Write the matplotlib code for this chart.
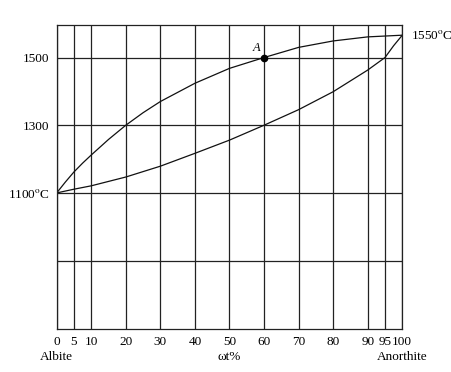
import matplotlib.pyplot as plt

plt.rcParams['font.family'] = ['Liberation Serif', 'DejaVu Serif']
plt.rcParams['mathtext.fontset'] = 'stix'

# composition lines (wt% anorthite) and temperature lines
grid_x = [0, 5, 10, 20, 30, 40, 50, 60, 70, 80, 90, 95, 100]
grid_t = [900, 1100, 1300, 1500]

# liquidus (upper curve)
liq_x = [0, 2.5, 5, 7.5, 10, 15, 20, 25, 30, 40, 50, 60, 70, 80, 90, 100]
liq_t = [1100, 1132, 1162, 1188, 1212, 1258, 1300, 1337, 1370, 1424, 1468, 1500, 1530, 1549, 1561, 1566]

# solidus (lower curve)
sol_x = [0, 5, 10, 20, 30, 40, 50, 60, 70, 80, 90, 95, 97.5, 100]
sol_t = [1100, 1111, 1121, 1147, 1179, 1217, 1256, 1300, 1346, 1399, 1463, 1500, 1535, 1566]

point_A = (60, 1500)

fig = plt.figure(figsize=(4.52, 3.72), dpi=100)
ax = fig.add_axes([0.1254, 0.1156, 0.7646, 0.818])

for x in grid_x:
    ax.axvline(x, color='#222222', lw=0.9)
for t in grid_t:
    ax.axhline(t, color='#222222', lw=0.9)

ax.plot(liq_x, liq_t, color='#111111', lw=0.9)
ax.plot(sol_x, sol_t, color='#111111', lw=0.9)
ax.plot(*point_A, 'o', color='black', ms=4.5)
ax.text(point_A[0] - 1.2, point_A[1] + 10, 'A', style='italic', fontsize=9,
        ha='right', va='bottom')

ax.set_xlim(0, 100)
ax.set_ylim(698, 1597)
ax.set_xticks(grid_x)
ax.set_xticklabels([str(v) for v in grid_x], fontsize=9.5)
ax.set_yticks([1100, 1300, 1500])
ax.set_yticklabels([r'1100$^{\rm o}$C', '1300', '1500'], fontsize=9.5)
ax.tick_params(length=0, pad=5)
for s in ax.spines.values():
    s.set_color('#222222')
    s.set_linewidth(0.9)

ax.text(102.5, 1566, r'1550$^{\rm o}$C', fontsize=9.5, ha='left', va='center')
ax.text(0, 616, 'Albite', fontsize=9.5, ha='center', va='center')
ax.text(50, 616, 'ωt%', fontsize=9.5, ha='center', va='center')
ax.text(100, 616, 'Anorthite', fontsize=9.5, ha='center', va='center')

fig.savefig('out.png', dpi=100)
